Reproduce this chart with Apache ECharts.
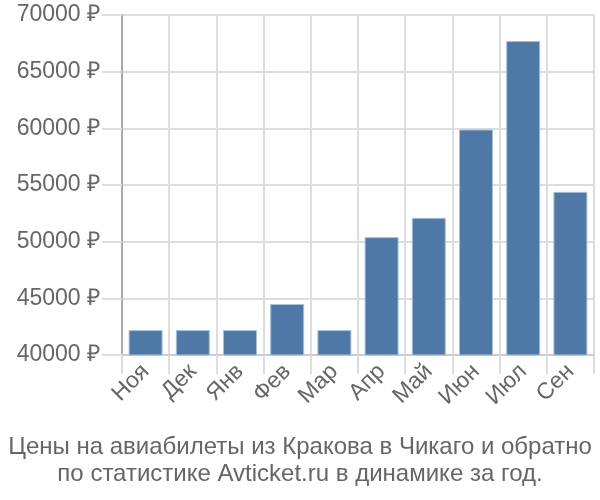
<!DOCTYPE html>
<html><head><meta charset="utf-8">
<script src="https://cdn.jsdelivr.net/npm/echarts@6/dist/echarts.min.js"></script>
<style>html,body{margin:0;padding:0;background:#fff}#c{width:600px;height:500px}</style>
</head><body><div id="c"></div>
<script>
var categories = ["Ноя","Дек","Янв","Фев","Мар","Апр","Май","Июн","Июл","Сен"];
var prices = [42200, 42200, 42200, 44500, 42200, 50400, 52100, 59900, 67700, 54400];
var titleLines = ["Цены на авиабилеты из Кракова в Чикаго и обратно","по статистике Avticket.ru в динамике за год."];
var yMin = 40000, yMax = 70000, yStep = 5000;

var chart = echarts.init(document.getElementById('c'), null, {renderer:'canvas'});
chart.setOption({
  animation:false,
  textStyle:{fontFamily:'Liberation Sans'},
  title:{text:titleLines.join('\n'), left:'center', bottom:7,
    textStyle:{fontSize:24, fontWeight:'normal', color:'#666', lineHeight:27, fontFamily:'Liberation Sans'}},
  grid:{left:122, right:6, top:15, bottom:145, containLabel:false},
  xAxis:{type:'category', data:categories,
    axisLine:{lineStyle:{color:'#ccc', width:2}},
    axisTick:{show:true, length:19, alignWithLabel:false, lineStyle:{color:'#ddd', width:2}},
    splitLine:{show:true, lineStyle:{color:'#ddd', width:2}},
    axisLabel:{rotate:45, margin:13, fontSize:23, color:'#666', interval:0}},
  yAxis:{type:'value', min:yMin, max:yMax, interval:yStep,
    axisLine:{show:true, lineStyle:{color:'#aaa', width:2}},
    axisTick:{show:true, length:20, lineStyle:{color:'#ddd', width:2}},
    splitLine:{show:true, lineStyle:{color:'#ddd', width:2}},
    axisLabel:{margin:22, fontSize:23, color:'#666', formatter:function(v){return v+' ₽';}}},
  series:[{type:'bar', data:prices, barCategoryGap:'28%',
    itemStyle:{color:'#4e79a7', borderColor:'#a9c0d9', borderWidth:1}}]
});
</script></body></html>
